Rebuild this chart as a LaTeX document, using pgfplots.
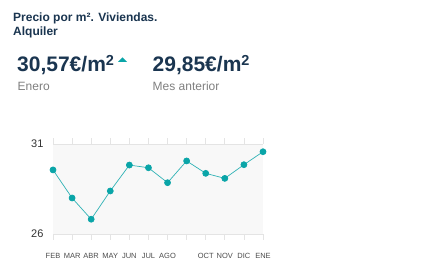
\documentclass[border=0pt]{standalone}
\usepackage{pgfplots}
\pgfplotsset{compat=1.18}
\usepackage{fontspec}
\setmainfont{Liberation Sans}
\definecolor{navy}{HTML}{1A3550}
\definecolor{teal1}{HTML}{0AA5A8}
\definecolor{txtgray}{HTML}{808080}
\definecolor{bggray}{HTML}{F8F8F8}
\definecolor{gridgray}{HTML}{E4E4E4}
\begin{document}
\begin{tikzpicture}
\path[use as bounding box,fill=white] (0pt,0pt) rectangle (437pt,278pt);
% titles
\node[anchor=base west,inner sep=0,font=\fontsize{12}{14}\selectfont\bfseries,text=navy] at (13pt,256pt) {Precio por m². Viviendas.};
\node[anchor=base west,inner sep=0,font=\fontsize{12}{14}\selectfont\bfseries,text=navy] at (13pt,242pt) {Alquiler};
\node[anchor=base west,inner sep=0,font=\fontsize{21}{25}\selectfont\bfseries,text=navy] at (17pt,206.3pt) {30,57€/m\raisebox{6pt}{\fontsize{14.5}{16}\selectfont 2}};
\fill[teal1] (118pt,216pt) -- (127pt,216pt) -- (122.5pt,220.5pt) -- cycle;
\node[anchor=base west,inner sep=0,font=\fontsize{21}{25}\selectfont\bfseries,text=navy] at (152.5pt,206.3pt) {29,85€/m\raisebox{6pt}{\fontsize{14.5}{16}\selectfont 2}};
\node[anchor=base west,inner sep=0,font=\fontsize{12}{14}\selectfont,text=txtgray] at (17.5pt,187.3pt) {Enero};
\node[anchor=base west,inner sep=0,font=\fontsize{12}{14}\selectfont,text=txtgray] at (152.5pt,187.3pt) {Mes anterior};
\begin{axis}[
  at={(53pt,44pt)}, anchor=south west,
  scale only axis, width=210pt, height=90pt,
  xmin=0, xmax=11, ymin=26, ymax=31,
  axis background/.style={fill=bggray},
  axis line style={draw=none},
  xtick={0,...,11},
  xticklabels={FEB,MAR,ABR,MAY,JUN,JUL,AGO,,OCT,NOV,DIC,ENE},
  xtick align=outside,
  xtick style={draw=gridgray, line width=0.8pt},
  major tick length=6pt,
  xticklabel style={font=\fontsize{7.5}{9}\selectfont, text=black!70, yshift=-10pt},
  ytick={26,31},
  ytick style={draw=none},
  yticklabel style={font=\fontsize{11}{13}\selectfont, text=black!80, xshift=-6pt},
  /pgf/number format/assume math mode=true,
  ymajorgrids, grid style={gridgray, line width=0.8pt},
  clip=false,
]
\addplot[teal1!85, line width=0.7pt, mark=*, mark size=3pt, mark options={fill=teal1, draw=teal1}]
coordinates {(0,29.56) (1,28.0) (2,26.82) (3,28.39) (4,29.83) (5,29.68) (6,28.85) (7,30.06) (8,29.37) (9,29.09) (10,29.85) (11,30.57)};
\end{axis}
\end{tikzpicture}
\end{document}
